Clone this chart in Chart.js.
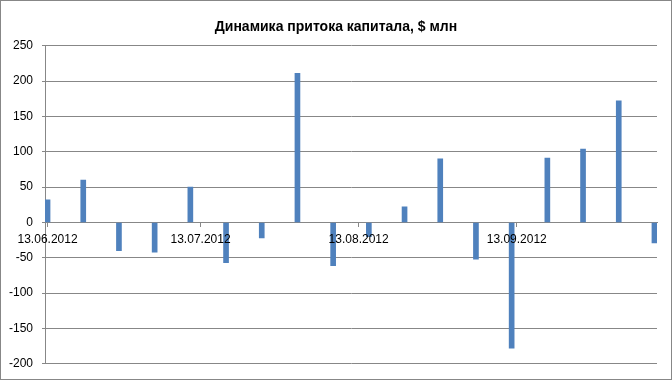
<!DOCTYPE html>
<html>
<head>
<meta charset="utf-8">
<script src="https://cdn.jsdelivr.net/npm/chart.js@4.4.1/dist/chart.umd.min.js"></script>
<style>
  html, body { margin: 0; padding: 0; background: #fff; }
  #wrap { width: 672px; height: 380px; }
</style>
</head>
<body>
<div id="wrap"><canvas id="chart"></canvas></div>
<script>
// Weekly capital inflow, $ mln
const dates = [
  '13.06.2012', '20.06.2012', '27.06.2012', '04.07.2012', '11.07.2012', '18.07.2012',
  '25.07.2012', '01.08.2012', '08.08.2012', '15.08.2012', '22.08.2012', '29.08.2012',
  '05.09.2012', '12.09.2012', '19.09.2012', '26.09.2012', '03.10.2012', '10.10.2012',
];
const inflow = [32, 60, -40, -42, 50, -57, -22, 211, -61, -20, 22, 90, -52, -178, 91, 104, 172, -29];
const xTickLabels = ['13.06.2012', '13.07.2012', '13.08.2012', '13.09.2012'];
const startDate = '13.06.2012';
const endDate = '10.10.2012';

const GRID = '#878787';
const FONT = "'Liberation Sans', Arial, sans-serif";

function dayOf(s) {
  const [d, m, y] = s.split('.').map(Number);
  return Date.UTC(y, m - 1, d) / 86400000;
}
const day0 = dayOf(startDate);
const offset = s => dayOf(s) - day0;

// white background + thin grey chart frame
const frame = {
  id: 'frame',
  beforeDraw(chart) {
    const ctx = chart.ctx;
    ctx.save();
    ctx.fillStyle = '#fff';
    ctx.fillRect(0, 0, chart.width, chart.height);
    ctx.strokeStyle = GRID;
    ctx.lineWidth = 1;
    ctx.strokeRect(0.5, 0.5, chart.width - 1, chart.height - 1);
    ctx.restore();
  },
};

new Chart(document.getElementById('chart'), {
  type: 'bar',
  data: {
    datasets: [{
      label: 'Приток капитала',
      data: dates.map((d, i) => ({ x: offset(d), y: inflow[i] })),
      backgroundColor: '#4F81BD',
      borderWidth: 0,
      barThickness: 5,
    }],
  },
  options: {
    responsive: true,
    maintainAspectRatio: false,
    animation: false,
    layout: { padding: { left: 0, right: 0, bottom: 16, top: 0 } },
    plugins: {
      legend: { display: false },
      tooltip: { enabled: false },
      title: {
        display: true,
        text: 'Динамика притока капитала, $ млн',
        color: '#000',
        font: { family: FONT, size: 14, weight: 'bold' },
        padding: { top: 19, bottom: 10 },
      },
    },
    scales: {
      x: {
        type: 'linear',
        position: { y: 0 },
        min: -0.5,
        max: offset(endDate) + 0.5,
        offset: false,
        afterBuildTicks: scale => {
          scale.ticks = xTickLabels.map(l => ({ value: offset(l) }));
        },
        ticks: {
          z: 1, // date labels sit on top of the bars
          autoSkip: false,
          maxRotation: 0,
          color: '#000',
          padding: 6,
          font: { family: FONT, size: 12 },
          callback: (v, i) => xTickLabels[i],
        },
        grid: { drawOnChartArea: false, drawTicks: true, tickLength: 4, color: GRID, offset: false },
        border: { display: true, color: GRID },
      },
      y: {
        min: -200,
        max: 250,
        afterFit: scale => { scale.width = 45; },
        ticks: {
          stepSize: 50,
          color: '#000',
          padding: 9,
          font: { family: FONT, size: 12 },
        },
        grid: { color: GRID, tickLength: 3 },
        border: { display: true, color: GRID },
      },
      // empty right-hand spacer so the plot ends where the reference does
      yRight: {
        position: 'right',
        afterFit: scale => { scale.width = 15; },
        ticks: { display: false },
        grid: { display: false },
        border: { display: false },
      },
    },
  },
  plugins: [frame],
});
</script>
</body>
</html>
